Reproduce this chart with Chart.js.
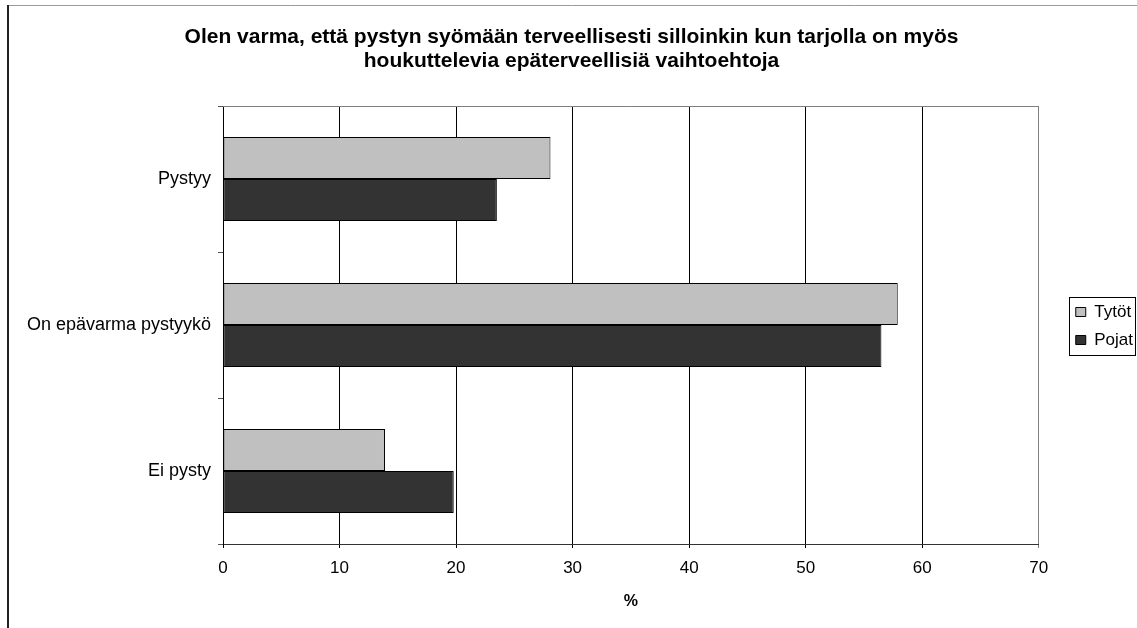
<!DOCTYPE html>
<html>
<head>
<meta charset="utf-8">
<script src="https://cdn.jsdelivr.net/npm/chart.js@4"></script>
<style>
  html, body { margin: 0; padding: 0; background: #fff; }
  #wrap { width: 1137px; height: 628px; position: relative; }
</style>
</head>
<body>
<div id="wrap"><canvas id="c" width="1137" height="628"></canvas></div>
<script>
const titleLines = ['Olen varma, että pystyn syömään terveellisesti silloinkin kun tarjolla on myös', 'houkuttelevia epäterveellisiä vaihtoehtoja'];
const categories = ['Pystyy', 'On epävarma pystyykö', 'Ei pysty'];
const seriesNames = ['Tytöt', 'Pojat'];
const tytot = [28.1, 57.9, 13.9];
const pojat = [23.5, 56.5, 19.8];
const xTicks = [0, 10, 20, 30, 40, 50, 60, 70];
const xTitle = '%';

const FONT = "'Liberation Sans', Arial, sans-serif";

const framePlugin = {
  id: 'frame',
  beforeDraw(chart) {
    const ctx = chart.ctx;
    ctx.save();
    ctx.fillStyle = '#fff';
    ctx.fillRect(0, 0, chart.width, chart.height);
    ctx.strokeStyle = '#9a9a9a';
    ctx.lineWidth = 1;
    ctx.beginPath();
    ctx.moveTo(8, 5.5);
    ctx.lineTo(chart.width, 5.5);
    ctx.stroke();
    ctx.strokeStyle = '#222';
    ctx.lineWidth = 2;
    ctx.beginPath();
    ctx.moveTo(8, 5);
    ctx.lineTo(8, chart.height);
    ctx.stroke();
    ctx.restore();
  },
  afterDatasetsDraw(chart) {
    const ctx = chart.ctx;
    const a = chart.chartArea;
    ctx.save();
    ctx.strokeStyle = '#808080';
    ctx.lineWidth = 1;
    ctx.beginPath();
    ctx.moveTo(a.left, Math.round(a.top) + 0.5);
    ctx.lineTo(a.right, Math.round(a.top) + 0.5);
    ctx.stroke();
    ctx.restore();
  },
  afterDraw(chart) {
    const lg = chart.legend;
    if (!lg || !lg.legendHitBoxes || !lg.legendHitBoxes.length) return;
    const hb = lg.legendHitBoxes;
    const first = hb[0], last = hb[hb.length - 1];
    let maxR = 0;
    hb.forEach(h => { maxR = Math.max(maxR, h.left + h.width); });
    const l = Math.round(first.left - 7) + 0.5;
    const t = Math.round(first.top - 7) + 0.5;
    const r = Math.min(Math.round(maxR + 6) + 0.5, chart.width - 1.5);
    const b = Math.round(last.top + last.height + 6) + 0.5;
    const ctx = chart.ctx;
    ctx.save();
    ctx.strokeStyle = '#000';
    ctx.lineWidth = 1;
    ctx.strokeRect(l, t, r - l, b - t);
    ctx.restore();
  }
};

new Chart(document.getElementById('c'), {
  type: 'bar',
  data: {
    labels: categories,
    datasets: [
      { label: seriesNames[0], data: tytot, backgroundColor: '#C0C0C0', borderColor: '#000', borderWidth: 1, borderSkipped: false },
      { label: seriesNames[1], data: pojat, backgroundColor: '#333333', borderColor: '#000', borderWidth: 1, borderSkipped: false }
    ]
  },
  options: {
    indexAxis: 'y',
    responsive: false,
    animation: false,
    devicePixelRatio: 1,
    layout: { padding: { left: 0, right: -6, top: 24, bottom: 0 } },
    datasets: { bar: { categoryPercentage: 0.575, barPercentage: 1.0 } },
    scales: {
      x: {
        type: 'linear',
        min: 0, max: 70,
        afterBuildTicks: s => { s.ticks = xTicks.map(v => ({ value: v })); },
        grid: {
          color: ctx => (ctx.tick && ctx.tick.value === 70) ? '#808080' : '#000',
          lineWidth: 1,
          tickLength: 4,
          drawTicks: true
        },
        border: { display: true, color: '#333', width: 1 },
        ticks: { color: '#000', font: { family: FONT, size: 17 }, padding: 10, maxRotation: 0 },
        title: { display: true, text: xTitle, color: '#000', font: { family: FONT, size: 16, weight: 'bold' }, padding: { top: 0, bottom: 17 } },
        afterFit: s => { s.height = 84; }
      },
      y: {
        type: 'category',
        offset: true,
        grid: { display: true, drawOnChartArea: false, offset: true, tickLength: 5, color: '#555' },
        border: { display: true, color: '#000', width: 1 },
        ticks: { color: '#000', font: { family: FONT, size: 18 }, padding: 7 },
        afterFit: s => { s.width = 223; }
      },
      gap: {
        type: 'linear',
        position: 'right',
        display: true,
        grid: { display: false, drawOnChartArea: false, drawTicks: false },
        border: { display: false },
        ticks: { display: false },
        afterFit: s => { s.width = 26; }
      }
    },
    plugins: {
      title: {
        display: true,
        text: titleLines,
        color: '#000',
        font: { family: FONT, size: 21, weight: 'bold', lineHeight: 1.143 },
        padding: { top: 1, bottom: 33 }
      },
      legend: {
        display: true,
        position: 'right',
        align: 'center',
        labels: {
          color: '#000',
          font: { family: FONT, size: 17 },
          boxWidth: 10,
          boxHeight: 9,
          padding: 11
        }
      },
      tooltip: { enabled: false }
    }
  },
  plugins: [framePlugin]
});
</script>
</body>
</html>
